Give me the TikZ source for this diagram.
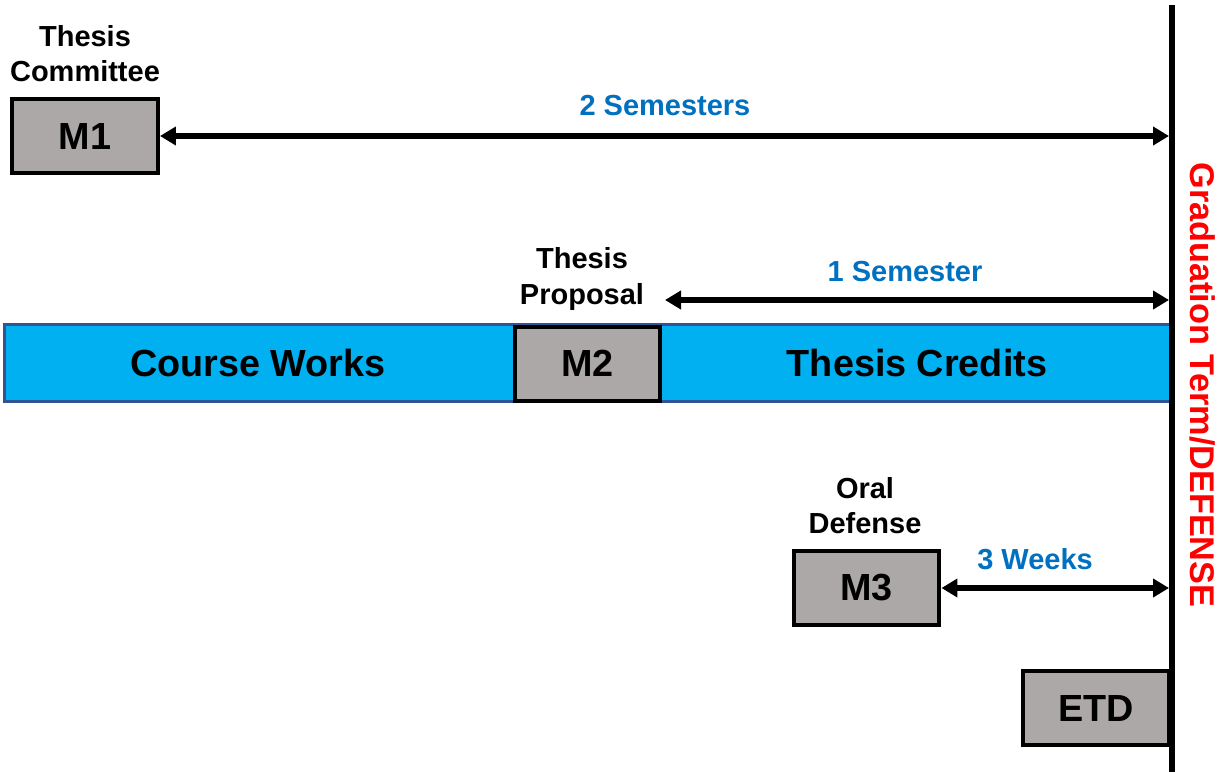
\documentclass[tikz,border=0pt]{standalone}
\usepackage{fontspec}
\setmainfont{Liberation Sans}
\usetikzlibrary{arrows.meta,positioning}
\definecolor{boxgray}{RGB}{171,168,167}
\definecolor{barcyan}{RGB}{0,176,240}
\definecolor{barblue}{RGB}{47,85,151}
\definecolor{spanblue}{RGB}{0,112,192}
\begin{document}
\begin{tikzpicture}[x=0.02cm,y=-0.02cm,>={Triangle[length=0.32cm,width=0.36cm]},
  milestone/.style={draw=black,line width=0.08cm,fill=boxgray,minimum width=2.92cm,minimum height=1.48cm,inner sep=0pt,font=\fontsize{21.5}{25}\selectfont\bfseries},
  caption/.style={align=center,inner sep=0pt,font=\fontsize{16.5}{20}\selectfont\bfseries},
  span/.style={text=spanblue,inner sep=0pt,font=\fontsize{16.5}{20}\selectfont\bfseries},
  gap/.style={<->,line width=0.11cm},
  barlabel/.style={inner sep=0pt,font=\fontsize{21.5}{25}\selectfont\bfseries}]
	\useasboundingbox (0,0) rectangle (1225,772);
	% course bar
	\node[draw=barblue,line width=0.07cm,fill=barcyan,minimum width=23.32cm,minimum height=1.54cm,inner sep=0pt] (bar) at (587.5,363) {};
	\node[barlabel] (course) at (258,363) {Course Works};
	\node[barlabel] (credits) at (917,363) {Thesis Credits};
	% milestones
	\node[milestone] (m1) at (85,136) {M1};
	\node[milestone] (m2) at (587.5,363.5) {M2};
	\node[milestone] (m3) at (866.5,588) {M3};
	\node[milestone] (etd) at (1096,708) {ETD};
	\node[caption] (committee) at (85,54) {Thesis\\Committee};
	\node[caption] (proposal) at (582,279) {Thesis\\Proposal};
	\node[caption] (oral) at (865,506) {Oral\\Defense};
	% graduation line
	\coordinate (top) at (1172,5);
	\coordinate (bottom) at (1172,772);
	\draw[line width=0.11cm] (top) -- (bottom);
	\node[rotate=-90,text=red,inner sep=0pt,font=\fontsize{19.5}{23}\selectfont\bfseries] (term) at (1203,385) {Graduation Term/DEFENSE};
	% spans
	\coordinate (end1) at (1169,136);
	\coordinate (start2) at (665,300);
	\coordinate (end2) at (1169,300);
	\coordinate (end3) at (1169,588);
	\draw[gap] (m1.east) -- (end1);
	\draw[gap] (start2) -- (end2);
	\draw[gap] (m3.east) -- (end3);
	\node[span] (sem2) at (665,106) {2 Semesters};
	\node[span] (sem1) at (905,272) {1 Semester};
	\node[span] (weeks) at (1035,559) {3 Weeks};
\end{tikzpicture}
\end{document}
